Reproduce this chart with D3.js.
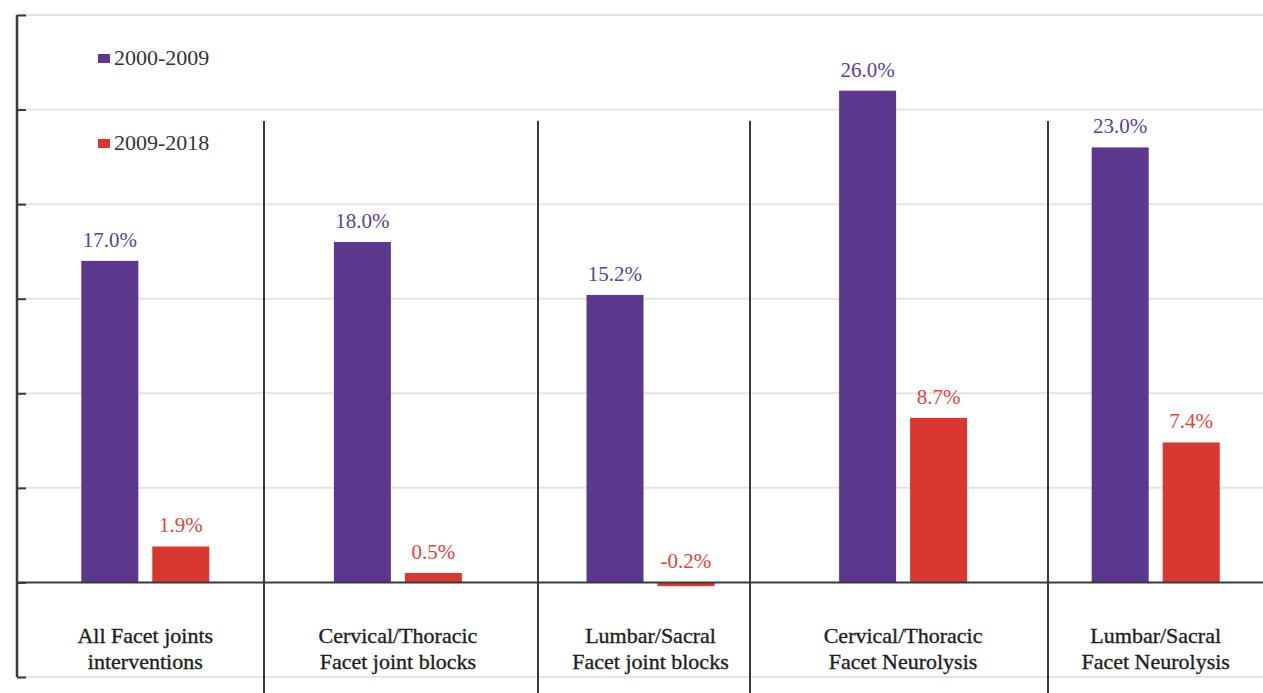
<!DOCTYPE html>
<html>
<head>
<meta charset="utf-8">
<script src="https://cdn.jsdelivr.net/npm/d3@7"></script>
<style>
  html, body { margin: 0; padding: 0; background: #fff; }
  svg { display: block; }
</style>
</head>
<body>
<div id="chart"></div>
<script>
// data
const categories = [
    ["All Facet joints", "interventions"],
    ["Cervical/Thoracic", "Facet joint blocks"],
    ["Lumbar/Sacral", "Facet joint blocks"],
    ["Cervical/Thoracic", "Facet Neurolysis"],
    ["Lumbar/Sacral", "Facet Neurolysis"]
];
const seriesNames = ["2000-2009", "2009-2018"];
const values2000 = [17.0, 18.0, 15.2, 26.0, 23.0];
const values2009 = [1.9, 0.5, -0.2, 8.7, 7.4];
const yTicks = [-5, 0, 5, 10, 15, 20, 25, 30];

const barColors = ["#5b378e", "#d9372f"];
const labelColors = ["#5b3f9c", "#e0453a"];
const FONT = '"Liberation Serif", "Times New Roman", serif';

const width = 1263;
const height = 693;
const margin = {top: 15, left: 17, bottom: 16};

const svg = d3.select('#chart')
    .append('svg')
    .attr('width', width)
    .attr('height', height);

const catIdx = categories.map((d, i) => i);

const x0 = d3.scaleBand()
    .domain(catIdx)
    .range([19, 1282])
    .paddingInner(0);

const x1 = d3.scaleBand()
    .domain([0, 1])
    .range([x0.bandwidth() / 2 - 64, x0.bandwidth() / 2 + 64])
    .paddingInner(0.197);

const y = d3.scaleLinear()
    .domain([-5, 30])
    .range([height - margin.bottom, margin.top]);

// gridlines
svg.append('g')
    .selectAll('line')
    .data(yTicks.filter(t => t !== 0))
    .enter().append('line')
    .attr('x1', margin.left)
    .attr('x2', width)
    .attr('y1', d => y(d))
    .attr('y2', d => y(d))
    .attr('stroke', '#e4e4e4')
    .attr('stroke-width', 2);

// category dividers (drawn over the original figure)
const dividerX = [264, 538, 750, 1048];
svg.append('g')
    .selectAll('line')
    .data(dividerX)
    .enter().append('line')
    .attr('x1', d => d)
    .attr('x2', d => d)
    .attr('y1', 121)
    .attr('y2', height)
    .attr('stroke', '#3a3a3a')
    .attr('stroke-width', 2);

// bars
const series = [values2000, values2009];
const groups = svg.append('g')
    .selectAll('g')
    .data(catIdx)
    .enter().append('g')
    .attr('transform', i => `translate(${x0(i)},0)`);

groups.selectAll('rect')
    .data(i => series.map((s, k) => ({k: k, v: s[i]})))
    .enter().append('rect')
    .attr('x', d => x1(d.k))
    .attr('width', x1.bandwidth())
    .attr('y', d => y(Math.max(0, d.v)))
    .attr('height', d => Math.max(Math.abs(y(d.v) - y(0)), 1))
    .attr('fill', d => barColors[d.k]);

groups.selectAll('text.val')
    .data(i => series.map((s, k) => ({k: k, v: s[i]})))
    .enter().append('text')
    .attr('class', 'val')
    .attr('x', d => x1(d.k) + x1.bandwidth() / 2)
    .attr('y', d => y(Math.max(0, d.v)) - 14)
    .attr('text-anchor', 'middle')
    .style('font-family', FONT)
    .style('font-size', '21px')
    .attr('fill', d => labelColors[d.k])
    .text(d => d.v.toFixed(1) + '%');

// zero line
svg.append('line')
    .attr('x1', margin.left)
    .attr('x2', width)
    .attr('y1', y(0))
    .attr('y2', y(0))
    .attr('stroke', '#3a3a3a')
    .attr('stroke-width', 2);

// left axis
const axis = svg.append('g')
    .attr('transform', `translate(${margin.left},0)`)
    .call(d3.axisRight(y).tickValues(yTicks).tickSize(9).tickFormat(''));
axis.select('.domain')
    .attr('stroke', '#3a3a3a')
    .attr('stroke-width', 2.5)
    .attr('d', `M0,${y(30)}V${y(-5)}`);
axis.selectAll('.tick line')
    .attr('stroke', '#3a3a3a')
    .attr('stroke-width', 2);

// category labels
const catLabels = svg.append('g')
    .selectAll('text')
    .data(catIdx)
    .enter().append('text')
    .attr('x', i => x0(i) + x0.bandwidth() / 2)
    .attr('y', 643)
    .attr('text-anchor', 'middle')
    .style('font-family', FONT)
    .style('font-size', '22px')
    .attr('fill', '#1e1e1e')
    .attr('stroke', '#1e1e1e')
    .attr('stroke-width', 0.35);

catLabels.selectAll('tspan')
    .data(i => categories[i])
    .enter().append('tspan')
    .attr('x', function () { return d3.select(this.parentNode).attr('x'); })
    .attr('dy', (d, j) => j === 0 ? 0 : 26)
    .text(d => d);

// legend
const legend = svg.append('g')
    .selectAll('g')
    .data(seriesNames)
    .enter().append('g')
    .attr('transform', (d, i) => `translate(98,${58 + i * 85})`);

legend.append('rect')
    .attr('x', 0)
    .attr('y', -4)
    .attr('width', 12)
    .attr('height', 9)
    .attr('fill', (d, i) => barColors[i]);

legend.append('text')
    .attr('x', 16)
    .attr('y', 7)
    .style('font-family', FONT)
    .style('font-size', '22px')
    .attr('fill', '#333')
    .text(d => d);
</script>
</body>
</html>
